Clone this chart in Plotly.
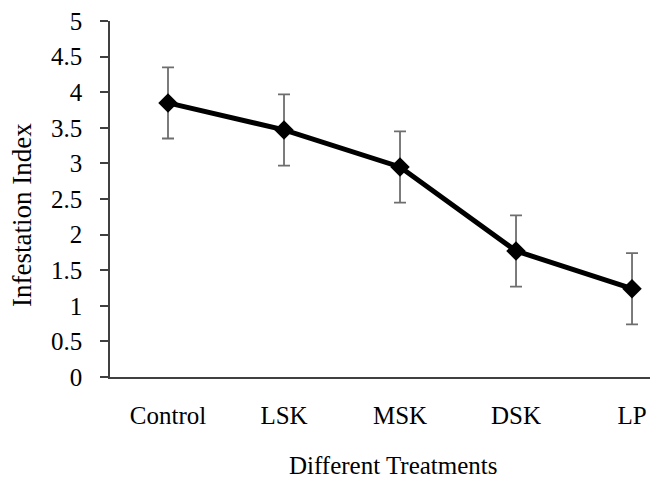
import plotly.graph_objects as go

treatments = ["Control", "LSK", "MSK", "DSK", "LP"]
infestation_index = [3.85, 3.47, 2.95, 1.77, 1.24]
error_values = [0.5, 0.5, 0.5, 0.5, 0.5]
y_ticks = [0, 0.5, 1, 1.5, 2, 2.5, 3, 3.5, 4, 4.5, 5]
y_tick_labels = ["0", "0.5", "1", "1.5", "2", "2.5", "3", "3.5", "4", "4.5", "5"]

FONT = "Liberation Serif, Times New Roman, serif"

W, H = 650, 478
L, T, B = 110, 21, 101
PW, PH = W - L, H - T - B

fig = go.Figure()
fig.add_trace(go.Scatter(
    x=list(range(len(treatments))),
    y=infestation_index,
    mode="lines+markers",
    line=dict(color="black", width=5),
    marker=dict(symbol="diamond", size=15, color="black"),
    error_y=dict(type="data", array=error_values, visible=True,
                 color="#6e6e6e", thickness=1.8, width=6),
    showlegend=False,
))

fig.update_layout(
    width=W, height=H,
    margin=dict(l=L, r=0, t=T, b=B, autoexpand=False),
    paper_bgcolor="white", plot_bgcolor="white",
    font=dict(family=FONT, size=25, color="black"),
    xaxis=dict(
        range=[-0.5, 4.155],
        tickmode="array",
        tickvals=list(range(len(treatments))),
        ticktext=treatments,
        showline=True, linecolor="#404040", linewidth=1.5,
        showgrid=False, zeroline=False, ticks="",
        ticklabelstandoff=15,
        ticklabeloverflow="allow",
        tickfont=dict(family=FONT, size=25, color="black"),
    ),
    yaxis=dict(
        range=[0, 5],
        tickmode="array",
        tickvals=y_ticks,
        ticktext=y_tick_labels,
        showline=True, linecolor="#404040", linewidth=1.5,
        showgrid=False, zeroline=False,
        ticks="outside", ticklen=8, tickwidth=1.5, tickcolor="#404040",
        ticklabelstandoff=13,
        ticklabeloverflow="allow",
        tickfont=dict(family=FONT, size=25, color="black"),
    ),
    annotations=[
        dict(text="Different Treatments", xref="paper", yref="paper",
             x=(393 - L) / PW, y=-(465 - 377) / PH,
             xanchor="center", yanchor="middle", showarrow=False,
             font=dict(family=FONT, size=25, color="black")),
        dict(text="Infestation Index", xref="paper", yref="paper",
             x=-(L - 22) / PW, y=(377 - 215) / PH, textangle=-90,
             xanchor="center", yanchor="middle", showarrow=False,
             font=dict(family=FONT, size=27, color="black")),
    ],
)

fig.write_html(
    "out.html",
    config={"displayModeBar": False},
    post_script="document.body.style.margin='0px';document.body.style.overflow='hidden';",
)
